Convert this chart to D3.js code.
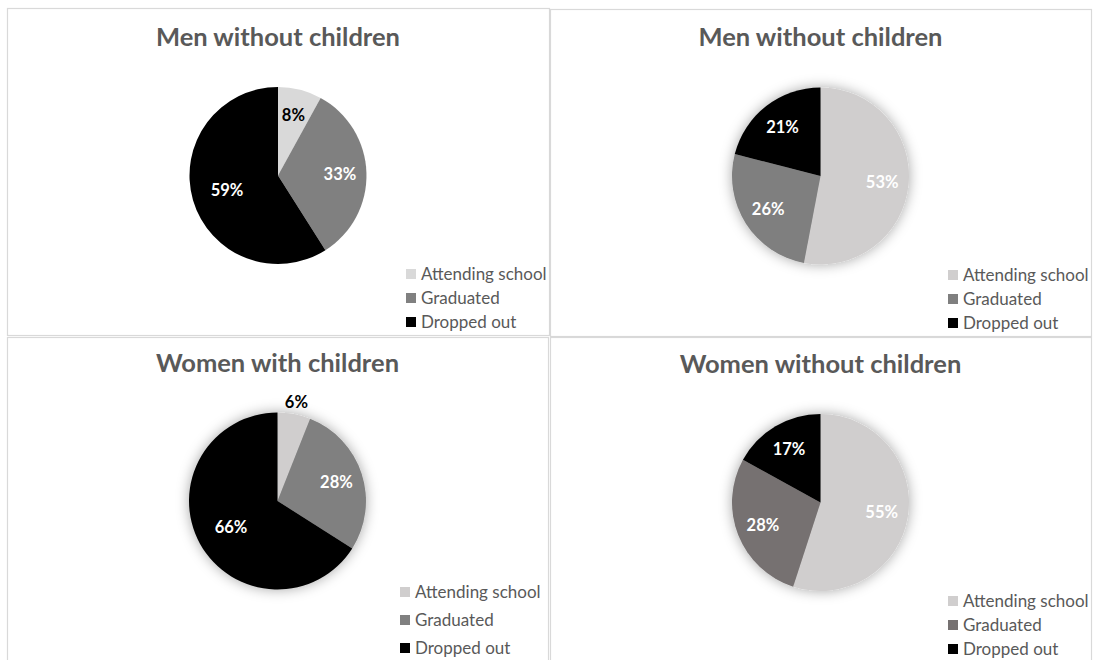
<!DOCTYPE html>
<html>
<head>
<meta charset="utf-8">
<script src="https://cdn.jsdelivr.net/npm/d3@7"></script>
<style>
  html, body { margin: 0; padding: 0; background: #fff; }
  svg { display: block; }
</style>
</head>
<body>
<svg id="chart" width="1099" height="660"></svg>
<script>
// Outcome categories shared by every pie
const categories = ["Attending school", "Graduated", "Dropped out"];

// Panel titles, in reading order
const chartTitles = [
  "Men without children",
  "Men without children",
  "Women with children",
  "Women without children"
];

// Shares (%) per panel, in the order of the categories
const menWithoutChildrenA = [8, 33, 59];
const menWithoutChildrenB = [53, 26, 21];
const womenWithChildren = [6, 28, 66];
const womenWithoutChildren = [55, 28, 17];

const seriesValues = [menWithoutChildrenA, menWithoutChildrenB, womenWithChildren, womenWithoutChildren];

// Panel frames and per-panel styling
const panels = [
  { x: 7,   y: 8,   w: 542, h: 327, cy: 167.5, titleY: 38, legendX: 143, legendTop: 266, legendStep: 24,
    colors: ["#d9d9d9", "#808080", "#000000"], labelColors: ["#000", "#fff", "#fff"], shadow: false, outside: [] },
  { x: 550, y: 9,   w: 541, h: 327, cy: 167,   titleY: 37, legendX: 143, legendTop: 266, legendStep: 24,
    colors: ["#d0cece", "#7f7f7f", "#000000"], labelColors: ["#fff", "#fff", "#fff"], shadow: true, outside: [] },
  { x: 7,   y: 337, w: 541, h: 330, cy: 164,   titleY: 35, legendX: 148, legendTop: 255, legendStep: 28,
    colors: ["#d0cece", "#808080", "#000000"], labelColors: ["#000", "#fff", "#fff"], shadow: true, outside: [0] },
  { x: 550, y: 337, w: 541, h: 330, cy: 165.5, titleY: 36, legendX: 143, legendTop: 264, legendStep: 24,
    colors: ["#d0cece", "#767171", "#000000"], labelColors: ["#fff", "#fff", "#fff"], shadow: true, outside: [] }
];

const radius = 88.5;
const svg = d3.select("#chart");

// Soft glow behind the raised pies
const defs = svg.append("defs");
const glow = defs.append("filter").attr("id", "pieGlow")
  .attr("x", "-30%").attr("y", "-30%").attr("width", "160%").attr("height", "160%");
glow.append("feDropShadow")
  .attr("dx", 0).attr("dy", 0)
  .attr("stdDeviation", 6.5)
  .attr("flood-color", "#000").attr("flood-opacity", 0.35);

const pie = d3.pie().sort(null).value(d => d);
const arc = d3.arc().innerRadius(0).outerRadius(radius);

panels.forEach((p, i) => {
  const values = seriesValues[i];
  const g = svg.append("g").attr("transform", `translate(${p.x},${p.y})`);

  // frame
  g.append("rect")
    .attr("x", 0.5).attr("y", 0.5)
    .attr("width", p.w).attr("height", p.h)
    .attr("fill", "#fff")
    .attr("stroke", "#d9d9d9").attr("stroke-width", 1.2);

  // title
  g.append("text")
    .attr("x", p.w / 2).attr("y", p.titleY)
    .attr("text-anchor", "middle")
    .attr("font-family", "Lato, 'Open Sans', sans-serif")
    .attr("font-weight", 700)
    .attr("font-size", 25.5)
    .attr("fill", "#595959")
    .text(chartTitles[i]);

  const color = d3.scaleOrdinal().domain(categories).range(p.colors);
  const arcs = pie(values);

  const pg = g.append("g").attr("transform", `translate(${p.w / 2},${p.cy})`);
  const slices = pg.append("g");
  if (p.shadow) slices.attr("filter", "url(#pieGlow)");
  slices.selectAll("path")
    .data(arcs)
    .join("path")
    .attr("d", arc)
    .attr("fill", (d, j) => color(categories[j]));

  // value labels
  pg.selectAll("text.val")
    .data(arcs)
    .join("text")
    .attr("class", "val")
    .attr("transform", (d, j) => {
      const isOut = p.outside.includes(j);
      const share = (d.endAngle - d.startAngle) / (2 * Math.PI);
      const k = isOut ? 1.14 : (share > 0.56 ? 0.6 : 0.7);
      const r = radius * k;
      const a = (d.startAngle + d.endAngle) / 2;
      return `translate(${Math.sin(a) * r},${-Math.cos(a) * r})`;
    })
    .attr("text-anchor", "middle")
    .attr("dy", "0.36em")
    .attr("font-family", "Lato, 'Open Sans', sans-serif")
    .attr("font-weight", 700)
    .attr("font-size", 16.5)
    .attr("fill", (d, j) => p.labelColors[j])
    .text(d => d.data + "%");

  // legend
  const lg = g.append("g").attr("transform", `translate(${p.w - p.legendX},${p.legendTop})`);
  const rows = lg.selectAll("g")
    .data(categories)
    .join("g")
    .attr("transform", (d, j) => `translate(0,${j * p.legendStep})`);
  rows.append("rect")
    .attr("x", 0).attr("y", -5)
    .attr("width", 10).attr("height", 10)
    .attr("fill", d => color(d));
  rows.append("text")
    .attr("x", 15).attr("dy", "0.36em")
    .attr("font-family", "Lato, 'Open Sans', sans-serif")
    .attr("font-size", 17)
    .attr("fill", "#595959")
    .text(d => d);
});
</script>
</body>
</html>
